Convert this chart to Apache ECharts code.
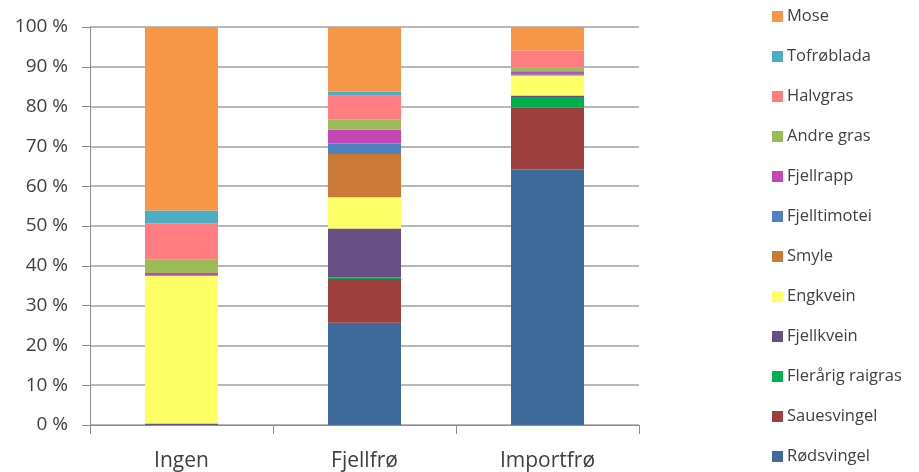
<!DOCTYPE html>
<html>
<head>
<meta charset="utf-8">
<script src="https://cdn.jsdelivr.net/npm/echarts@6/dist/echarts.min.js"></script>
<style>
  html, body { margin: 0; padding: 0; background: #fff; }
  #chart { width: 919px; height: 472px; }
</style>
</head>
<body>
<div id="chart"></div>
<script>
// Seed mix treatments on the x axis
const categories = ['Ingen', 'Fjellfrø', 'Importfrø'];

// Share of cover (%) per species, stacked bottom to top
const rodsvingel      = [0, 25.7, 64.2];
const sauesvingel     = [0, 11.0, 15.5];
const flerarigRaigras = [0, 0.4, 2.7];
const fjellkvein      = [0.4, 12.3, 0.4];
const engkvein        = [37.1, 7.8, 5.0];
const smyle           = [0, 10.9, 0];
const fjelltimotei    = [0, 2.6, 0.3];
const fjellrapp       = [0.7, 3.5, 0.8];
const andreGras       = [3.3, 2.5, 0.9];
const halvgras        = [9.2, 6.0, 4.3];
const tofroblada      = [3.2, 1.1, 0];
const mose            = [46.1, 16.2, 5.9];

const yTicks = [0, 10, 20, 30, 40, 50, 60, 70, 80, 90, 100];

const seriesDefs = [
  ['Rødsvingel', rodsvingel, '#3F6A9C'],
  ['Sauesvingel', sauesvingel, '#9D403D'],
  ['Flerårig raigras', flerarigRaigras, '#00B050'],
  ['Fjellkvein', fjellkvein, '#685085'],
  ['Engkvein', engkvein, '#FFFF66'],
  ['Smyle', smyle, '#CB7936'],
  ['Fjelltimotei', fjelltimotei, '#4F81BD'],
  ['Fjellrapp', fjellrapp, '#C546B7'],
  ['Andre gras', andreGras, '#9BBB59'],
  ['Halvgras', halvgras, '#FF7C80'],
  ['Tofrøblada', tofroblada, '#4BACC6'],
  ['Mose', mose, '#F79646']
];

const textColor = '#404040';
const font = 'Open Sans';

const chart = echarts.init(document.getElementById('chart'), null, { renderer: 'canvas' });

chart.setOption({
  animation: false,
  backgroundColor: '#ffffff',
  grid: { left: 90, right: 280, top: 27, bottom: 46, containLabel: false },
  legend: {
    orient: 'vertical',
    left: 772,
    top: 8,
    height: 464,
    padding: 0,
    itemWidth: 11,
    itemHeight: 11,
    itemGap: 23,
    icon: 'rect',
    data: seriesDefs.map(d => d[0]).reverse(),
    textStyle: { color: textColor, fontFamily: font, fontSize: 16.5, lineHeight: 16, padding: [0, 0, 0, -1] }
  },
  xAxis: {
    type: 'category',
    data: categories,
    axisLine: { show: true, lineStyle: { color: '#8c8c8c', width: 1 } },
    axisTick: { show: true, length: 9, lineStyle: { color: '#8c8c8c' } },
    axisLabel: { color: textColor, fontFamily: font, fontSize: 21, margin: 26 }
  },
  yAxis: {
    type: 'value',
    min: yTicks[0],
    max: yTicks[yTicks.length - 1],
    interval: yTicks[1] - yTicks[0],
    axisLine: { show: true, lineStyle: { color: '#8c8c8c', width: 1 } },
    axisTick: { show: true, length: 8, lineStyle: { color: '#8c8c8c' } },
    splitLine: { show: true, lineStyle: { color: '#a0a0a0', width: 1.5 } },
    axisLabel: {
      color: textColor, fontFamily: font, fontSize: 19, margin: 22,
      formatter: v => v + ' %'
    }
  },
  series: seriesDefs.map(([name, values, color]) => ({
    name: name,
    type: 'bar',
    stack: 'total',
    barWidth: 73,
    data: values,
    itemStyle: { color: color },
    emphasis: { disabled: true }
  }))
});
</script>
</body>
</html>
